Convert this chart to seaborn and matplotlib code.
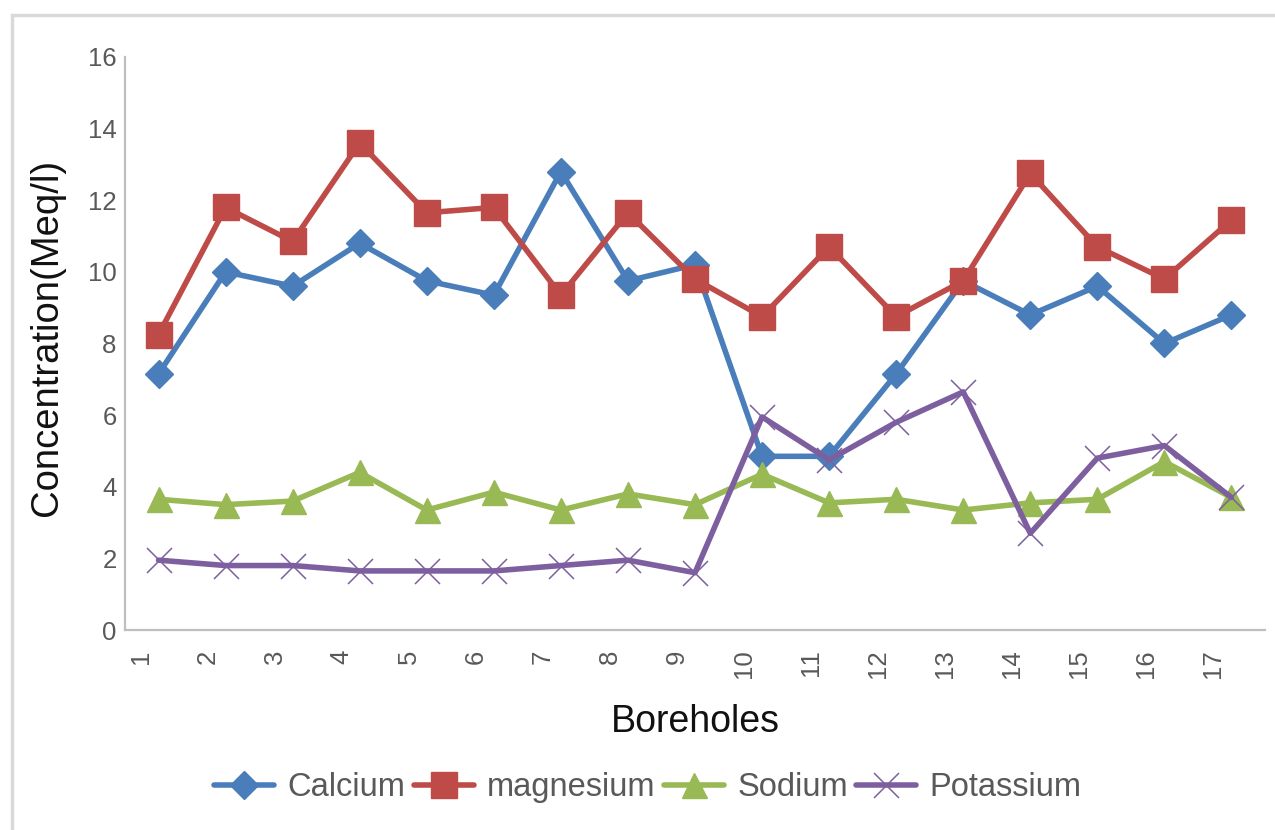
import numpy as np
import pandas as pd
import matplotlib
matplotlib.use("Agg")
import matplotlib.pyplot as plt
import matplotlib.transforms as mtransforms
from matplotlib.lines import Line2D
from matplotlib.patches import Rectangle
import seaborn as sns

# Borehole categories and ion concentrations (Meq/l)
boreholes = ["1", "2", "3", "4", "5", "6", "7", "8", "9",
             "10", "11", "12", "13", "14", "15", "16", "17"]
calcium = [7.15, 10.0, 9.6, 10.8, 9.75, 9.35, 12.8, 9.75, 10.2,
           4.85, 4.85, 7.15, 9.75, 8.8, 9.6, 8.0, 8.8]
magnesium = [8.25, 11.8, 10.85, 13.6, 11.65, 11.8, 9.35, 11.65, 9.8,
             8.75, 10.7, 8.75, 9.75, 12.75, 10.7, 9.8, 11.45]
sodium = [3.65, 3.5, 3.6, 4.4, 3.35, 3.85, 3.35, 3.8, 3.5,
          4.35, 3.55, 3.65, 3.35, 3.55, 3.65, 4.7, 3.7]
potassium = [1.95, 1.8, 1.8, 1.65, 1.65, 1.65, 1.8, 1.95, 1.6,
             5.95, 4.75, 5.8, 6.65, 2.7, 4.8, 5.15, 3.7]

series_names = ["Calcium", "magnesium", "Sodium", "Potassium"]
series_values = [calcium, magnesium, sodium, potassium]
colors = ["#4A7EBB", "#BE4B48", "#98B954", "#7D5FA0"]
markers = ["D", "s", "^", "x"]
marker_sizes = [14, 18.5, 18, 18]
edge_widths = [1.0, 1.0, 1.0, 1.1]
line_width = 4.0

sns.set_style("white")
plt.rcParams["font.family"] = ["Liberation Sans", "DejaVu Sans"]

fig = plt.figure(figsize=(12.75, 8.3), dpi=100)
ax = fig.add_axes([125 / 1275, 1 - 630 / 830, 1140 / 1275, 573 / 830])

positions = np.arange(len(boreholes))
for name, vals, col, mk, ms, mew in zip(series_names, series_values, colors,
                                        markers, marker_sizes, edge_widths):
    df = pd.DataFrame({"pos": positions, "value": vals})
    sns.lineplot(data=df, x="pos", y="value", ax=ax, color=col,
                 linewidth=line_width, marker=mk, markersize=ms,
                 markeredgecolor=col, markerfacecolor=col,
                 markeredgewidth=mew, label=name, legend=False)

ax.set_xlim(-0.5, len(boreholes) - 0.5)
ax.set_ylim(0, 16)
ax.set_yticks(np.arange(0, 17, 2))
ax.set_xticks(positions)
ax.set_xticklabels(boreholes, rotation=90, ha="center", va="top")

ax.tick_params(axis="both", length=0, labelcolor="#595959", labelsize=18.5)
ax.tick_params(axis="y", pad=6)
ax.tick_params(axis="x", pad=14)
shift = mtransforms.ScaledTranslation(-0.18, 0, fig.dpi_scale_trans)
for lbl in ax.get_xticklabels():
    lbl.set_transform(lbl.get_transform() + shift)

for side in ["top", "right"]:
    ax.spines[side].set_visible(False)
for side in ["left", "bottom"]:
    ax.spines[side].set_color("#BFBFBF")
    ax.spines[side].set_linewidth(1.6)
ax.grid(False)

ax.set_ylabel("Concentration(Meq/l)", fontsize=27.5, color="#111111")
ax.yaxis.set_label_coords(-0.053, 0.51)
ax.set_xlabel("Boreholes", fontsize=27, color="#111111")
ax.xaxis.set_label_coords(0.5, -0.13)

handles = [Line2D([], [], color=c, lw=line_width, marker=m, markersize=s,
                  markeredgecolor=c, markerfacecolor=c, markeredgewidth=w)
           for c, m, s, w in zip(colors, markers, marker_sizes, edge_widths)]
fig.legend(handles, series_names, loc="center", bbox_to_anchor=(0.508, 0.051),
           ncol=4, frameon=False, fontsize=23.5, handlelength=1.85,
           handletextpad=0.4, columnspacing=0.25, labelcolor="#595959")

# light outer chart frame
fig.patches.append(Rectangle((12 / 1275, -0.05), 1.2, 1 - 15 / 830 + 0.05,
                             transform=fig.transFigure, fill=False,
                             edgecolor="#D9D9D9", linewidth=2.5))

fig.savefig("out.png", dpi=100)
